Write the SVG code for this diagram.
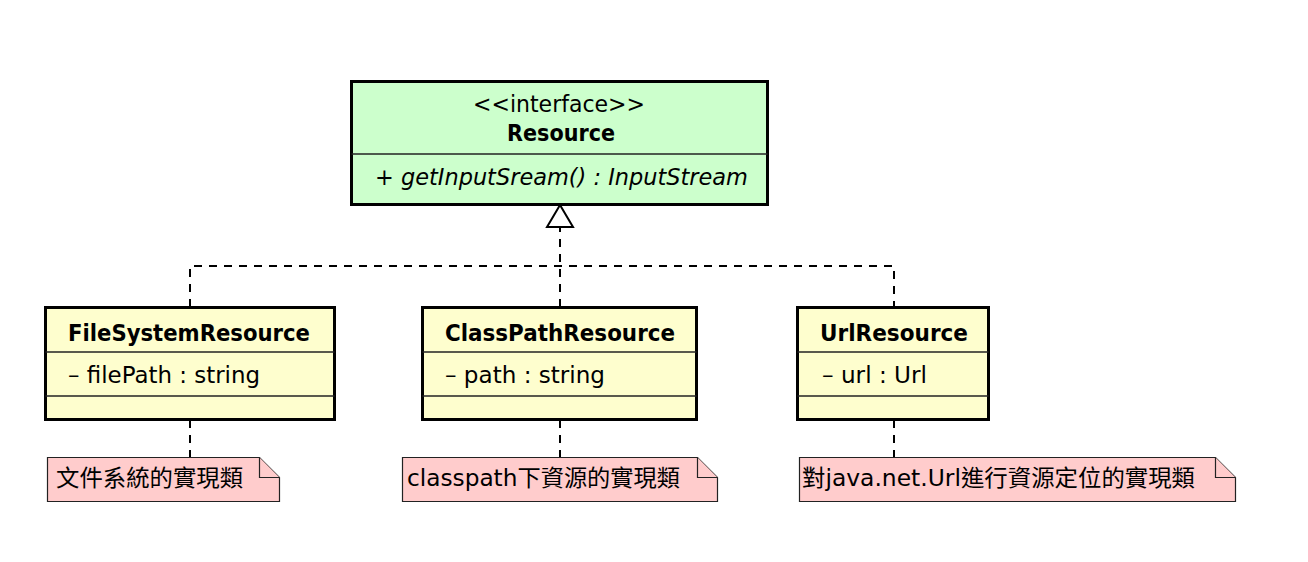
<svg xmlns="http://www.w3.org/2000/svg" width="1308" height="562" viewBox="0 0 1308 562">
<style>
text{font-family:"DejaVu Sans","Noto Sans CJK TC",sans-serif;font-size:23px;fill:#000}
.b{font-weight:bold}
.i{font-style:italic}
.c{text-anchor:middle}
.cls{fill:#FEFECE;stroke:#000;stroke-width:3}
.itf{fill:#CCFFCC;stroke:#000;stroke-width:3}
.sep{stroke:#222;stroke-width:1.5}
.note{fill:#FFCCCC;stroke:#222;stroke-width:1.2}
.dash{fill:none;stroke:#000;stroke-width:2;stroke-dasharray:8 7}
</style>
<rect width="1308" height="562" fill="#fff"/>
<g id="connectors">
<path class="dash" d="M190,307 V266 H894 V307"/>
<path class="dash" d="M560,307 V227"/>
<polygon points="560,205 547,227 573,227" fill="#fff" stroke="#000" stroke-width="2"/>
<path class="dash" d="M190,420 V458"/>
<path class="dash" d="M560,420 V458"/>
<path class="dash" d="M894,420 V458"/>
</g>
<g id="Resource">
<rect class="itf" x="351.5" y="81.5" width="416" height="123"/>
<line class="sep" x1="351.5" y1="154" x2="767.5" y2="154"/>
<text class="c" x="559" y="112" textLength="172" lengthAdjust="spacingAndGlyphs">&lt;&lt;interface&gt;&gt;</text>
<text class="c b" x="561" y="141" textLength="108" lengthAdjust="spacingAndGlyphs">Resource</text>
<text class="i" x="375" y="185" textLength="373" lengthAdjust="spacingAndGlyphs">+ getInputSream() : InputStream</text>
</g>
<g id="FileSystemResource">
<rect class="cls" x="45.5" y="307.5" width="289" height="112"/>
<line class="sep" x1="45.5" y1="352" x2="334.5" y2="352"/>
<line class="sep" x1="45.5" y1="396" x2="334.5" y2="396"/>
<text class="c b" x="189" y="341" textLength="242" lengthAdjust="spacingAndGlyphs">FileSystemResource</text>
<text x="68" y="383" textLength="192" lengthAdjust="spacingAndGlyphs">– filePath : string</text>
</g>
<g id="ClassPathResource">
<rect class="cls" x="422.5" y="307.5" width="274" height="112"/>
<line class="sep" x1="422.5" y1="352" x2="696.5" y2="352"/>
<line class="sep" x1="422.5" y1="396" x2="696.5" y2="396"/>
<text class="c b" x="560" y="341" textLength="230" lengthAdjust="spacingAndGlyphs">ClassPathResource</text>
<text x="445" y="383" textLength="160" lengthAdjust="spacingAndGlyphs">– path : string</text>
</g>
<g id="UrlResource">
<rect class="cls" x="797.5" y="307.5" width="191" height="112"/>
<line class="sep" x1="797.5" y1="352" x2="988.5" y2="352"/>
<line class="sep" x1="797.5" y1="396" x2="988.5" y2="396"/>
<text class="c b" x="894" y="341" textLength="148" lengthAdjust="spacingAndGlyphs">UrlResource</text>
<text x="822" y="383" textLength="105" lengthAdjust="spacingAndGlyphs">– url : Url</text>
</g>
<g id="note1">
<path class="note" d="M47.5,457.5 H259.5 L279.5,477.5 V501.5 H47.5 Z"/>
<path class="note" fill="none" d="M259.5,457.5 V477.5 H279.5"/>
<text x="56" y="486" textLength="187" lengthAdjust="spacingAndGlyphs">文件系統的實現類</text>
</g>
<g id="note2">
<path class="note" d="M402.5,457.5 H697.5 L717.5,477.5 V501.5 H402.5 Z"/>
<path class="note" fill="none" d="M697.5,457.5 V477.5 H717.5"/>
<text x="407" y="486" textLength="273" lengthAdjust="spacingAndGlyphs">classpath下資源的實現類</text>
</g>
<g id="note3">
<path class="note" d="M799.5,457.5 H1215.5 L1235.5,477.5 V501.5 H799.5 Z"/>
<path class="note" fill="none" d="M1215.5,457.5 V477.5 H1235.5"/>
<text x="802" y="486" textLength="393" lengthAdjust="spacingAndGlyphs">對java.net.Url進行資源定位的實現類</text>
</g>
</svg>
